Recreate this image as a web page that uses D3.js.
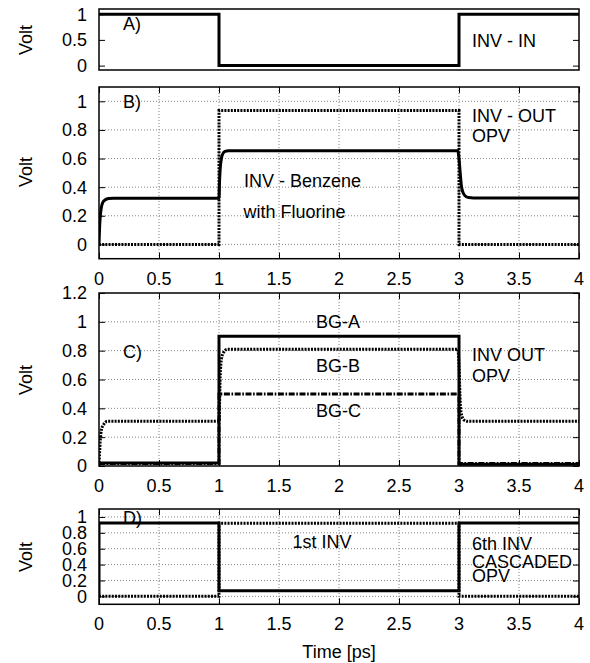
<!DOCTYPE html>
<html>
<head>
<meta charset="utf-8">
<script src="https://cdn.jsdelivr.net/npm/d3@7"></script>
<style>
  html, body { margin: 0; padding: 0; background: #fff; }
  text { font-family: "Liberation Sans", Arial, sans-serif; fill: #000; }
</style>
</head>
<body>
<svg id="chart" width="590" height="663"></svg>
<script>
// ---------- data ----------
const timeTicks = [0, 0.5, 1, 1.5, 2, 2.5, 3, 3.5, 4];
const timeTickLabels = ["0", "0.5", "1", "1.5", "2", "2.5", "3", "3.5", "4"];

// Panel A: INV - IN
const aTime = [0, 1, 1, 3, 3, 4];
const aIn   = [1, 1, 0, 0, 1, 1];
const aYTicks = [0, 0.5, 1];

// Panel B: INV - Benzene with Fluorine (solid) and INV - OUT OPV (dotted)
const bTime = [0, 0.005, 0.01, 0.02, 0.03, 0.05, 0.08, 0.12, 1, 1.005, 1.01, 1.02, 1.03, 1.05, 1.08, 1.12,
               2.99, 3.0, 3.01, 3.02, 3.03, 3.05, 3.08, 3.12, 4];
const bBenzene = [0, 0.12, 0.19, 0.26, 0.29, 0.31, 0.32, 0.322, 0.322, 0.45, 0.53, 0.6, 0.63, 0.65, 0.655, 0.655,
                  0.655, 0.6, 0.5, 0.41, 0.37, 0.34, 0.327, 0.325, 0.325];
const bOpvTime = [0, 1, 1, 3, 3, 4];
const bOpv     = [0, 0, 0.935, 0.935, 0, 0];
const bYTicks = [0, 0.2, 0.4, 0.6, 0.8, 1];

// Panel C: BG-A (solid), BG-B (dotted), BG-C (dash-dot)
const cTime = [0, 1, 1, 3, 3, 4];
const cBgA  = [0.02, 0.02, 0.9, 0.9, 0.012, 0.012];
const cBgC  = [0.018, 0.018, 0.5, 0.5, 0.018, 0.018];
const cBgBTime = [0, 0.01, 0.02, 0.04, 0.07, 1, 1.01, 1.02, 1.04, 1.07, 2.99, 3.0, 3.01, 3.02, 3.04, 3.07, 4];
const cBgB     = [0, 0.17, 0.25, 0.29, 0.31, 0.31, 0.62, 0.74, 0.79, 0.81, 0.81, 0.7, 0.45, 0.36, 0.32, 0.31, 0.31];
const cYTicks = [0, 0.2, 0.4, 0.6, 0.8, 1, 1.2];

// Panel D: 6th INV cascaded (solid) and 1st INV (dotted)
const dTime  = [0, 0, 1, 1, 3, 3, 4];
const d6th   = [0, 0.925, 0.925, 0.07, 0.07, 0.925, 0.925];
const d1Time = [0, 1, 1, 3, 3, 4];
const d1st   = [0, 0, 0.92, 0.92, 0, 0];
const dYTicks = [0, 0.2, 0.4, 0.6, 0.8, 1];

// ---------- layout ----------
const svg = d3.select("#chart");
const X0 = 99, X1 = 579;
const x = d3.scaleLinear().domain([0, 4]).range([X0, X1]);
const FS = 18;

const panels = [
  { id: "A", top: 9, bottom: 70, domain: [-0.085, 1.1], yticks: aYTicks, grid: false, xticks: false, xlabels: false, voltY: 40 },
  { id: "B", top: 87, bottom: 258.7, domain: [-0.1, 1.1], yticks: bYTicks, grid: true, xticks: true, xlabels: true, voltY: 172 },
  { id: "C", top: 293, bottom: 466, domain: [0, 1.2], yticks: cYTicks, grid: true, xticks: true, xlabels: true, voltY: 380 },
  { id: "D", top: 509, bottom: 604.3, domain: [-0.1, 1.1], yticks: dYTicks, grid: true, xticks: true, xlabels: true, voltY: 557 }
];

const solid = { dash: null };
const dotted = { dash: "2,1.2" };
const dashdot = { dash: "6,1.6,1.6,1.6" };

const series = {
  A: [ { t: aTime, v: aIn, style: solid } ],
  B: [ { t: bOpvTime, v: bOpv, style: dotted }, { t: bTime, v: bBenzene, style: solid, smooth: true } ],
  C: [ { t: cTime, v: cBgC, style: dashdot }, { t: cBgBTime, v: cBgB, style: dotted, smooth: true }, { t: cTime, v: cBgA, style: solid } ],
  D: [ { t: d1Time, v: d1st, style: dotted }, { t: dTime, v: d6th, style: solid } ]
};

const labels = {
  A: [ { s: "A)", x: 123, y: 30 }, { s: "INV - IN", x: 472, y: 47 } ],
  B: [ { s: "B)", x: 123, y: 107.5 }, { s: "INV - OUT", x: 472, y: 122.3 }, { s: "OPV", x: 472, y: 142.3 },
       { s: "INV - Benzene", x: 244, y: 186.7 }, { s: "with Fluorine", x: 243.5, y: 218.3 } ],
  C: [ { s: "C)", x: 123, y: 358 }, { s: "BG-A", x: 316, y: 327.7 }, { s: "BG-B", x: 316, y: 371.7 },
       { s: "BG-C", x: 316, y: 416.7 }, { s: "INV OUT", x: 472, y: 361 }, { s: "OPV", x: 472, y: 381.7 } ],
  D: [ { s: "D)", x: 123, y: 524 }, { s: "1st INV", x: 292.5, y: 548.3 }, { s: "6th INV", x: 472, y: 550 },
       { s: "CASCADED", x: 472, y: 568 }, { s: "OPV", x: 472, y: 581.7 } ]
};

const defs = svg.append("defs");
const TICK = 6;

panels.forEach(p => {
  const y = d3.scaleLinear().domain(p.domain).range([p.bottom, p.top]);
  const g = svg.append("g");

  defs.append("clipPath").attr("id", "clip" + p.id)
    .append("rect").attr("x", X0).attr("y", p.top).attr("width", X1 - X0).attr("height", p.bottom - p.top);

  // grid
  if (p.grid) {
    const gg = g.append("g").attr("stroke", "#777").attr("stroke-width", 0.9).attr("stroke-dasharray", "1,2");
    p.yticks.forEach(v => {
      const yy = y(v);
      if (Math.abs(yy - p.top) < 2 || Math.abs(yy - p.bottom) < 2) return;
      gg.append("line").attr("x1", X0).attr("x2", X1).attr("y1", yy).attr("y2", yy);
    });
    timeTicks.forEach(t => {
      const xx = x(t);
      if (Math.abs(xx - X0) < 2 || Math.abs(xx - X1) < 2) return;
      gg.append("line").attr("x1", xx).attr("x2", xx).attr("y1", p.top).attr("y2", p.bottom);
    });
  }

  // axes (ticks inward on all sides, via d3 axes)
  const yAxisL = d3.axisRight(y).tickValues(p.yticks).tickSize(TICK).tickFormat("");
  const yAxisR = d3.axisLeft(y).tickValues(p.yticks).tickSize(TICK).tickFormat("");
  g.append("g").attr("transform", `translate(${X0},0)`).call(yAxisL).call(s => s.select(".domain").remove());
  g.append("g").attr("transform", `translate(${X1},0)`).call(yAxisR).call(s => s.select(".domain").remove());
  if (p.xticks) {
    const xAxisB = d3.axisTop(x).tickValues(timeTicks).tickSize(TICK).tickFormat("");
    const xAxisT = d3.axisBottom(x).tickValues(timeTicks).tickSize(TICK).tickFormat("");
    g.append("g").attr("transform", `translate(0,${p.bottom})`).call(xAxisB).call(s => s.select(".domain").remove());
    g.append("g").attr("transform", `translate(0,${p.top})`).call(xAxisT).call(s => s.select(".domain").remove());
  }
  g.selectAll(".tick line").attr("stroke", "#000").attr("stroke-width", 1);

  // y tick labels
  p.yticks.forEach(v => {
    g.append("text").attr("x", 87).attr("y", y(v)).attr("dy", "0.36em")
      .attr("text-anchor", "end").attr("font-size", FS).text(d3.format("~g")(v));
  });
  // x tick labels
  if (p.xlabels) {
    timeTicks.forEach((t, i) => {
      g.append("text").attr("x", x(t)).attr("y", p.bottom + 26)
        .attr("text-anchor", "middle").attr("font-size", FS).text(timeTickLabels[i]);
    });
  }

  // series
  const plot = g.append("g").attr("clip-path", `url(#clip${p.id})`);
  series[p.id].forEach(s => {
    const pts = s.t.map((t, i) => [t, s.v[i]]);
    const line = d3.line().x(d => x(d[0])).y(d => y(d[1]))
      .curve(s.smooth ? d3.curveMonotoneX : d3.curveLinear);
    plot.append("path").attr("d", line(pts)).attr("fill", "none")
      .attr("stroke", "#000").attr("stroke-width", 3)
      .attr("stroke-linejoin", "miter")
      .attr("stroke-dasharray", s.style.dash);
  });

  // border
  g.append("rect").attr("x", X0).attr("y", p.top).attr("width", X1 - X0).attr("height", p.bottom - p.top)
    .attr("fill", "none").attr("stroke", "#000").attr("stroke-width", 1.5);

  // labels
  labels[p.id].forEach(l => {
    g.append("text").attr("x", l.x).attr("y", l.y).attr("font-size", FS).text(l.s);
  });

  // Volt label
  g.append("text").attr("transform", `translate(31.5,${p.voltY}) rotate(-90)`)
    .attr("text-anchor", "middle").attr("font-size", FS).text("Volt");
});

svg.append("text").attr("x", x(2)).attr("y", 658).attr("text-anchor", "middle")
  .attr("font-size", FS).text("Time [ps]");
</script>
</body>
</html>
